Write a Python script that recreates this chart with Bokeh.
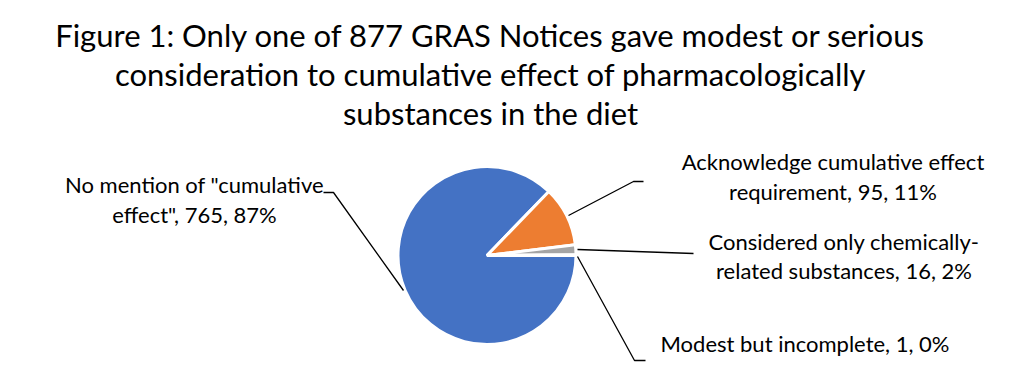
import math
from bokeh.plotting import figure
from bokeh.models import Range1d, ColumnDataSource
from bokeh.core.properties import value
from bokeh.embed import file_html
from bokeh.resources import INLINE

# ---- data ----
categories = [
    'No mention of "cumulative effect"',
    "Acknowledge cumulative effect requirement",
    "Considered only chemically-related substances",
    "Modest but incomplete",
]
counts = [765, 95, 16, 1]
percents = ["87%", "11%", "2%", "0%"]
colors = ["#4472C4", "#ED7D31", "#A5A5A5", "#FFC000"]
label_lines = [
    ['No mention of "cumulative', 'effect", 765, 87%'],
    ["Acknowledge cumulative effect", "requirement, 95, 11%"],
    ["Considered only chemically-", "related substances, 16, 2%"],
    ["Modest but incomplete, 1, 0%"],
]
title_lines = [
    "Figure 1: Only one of 877 GRAS Notices gave modest or serious",
    "consideration to cumulative effect of pharmacologically",
    "substances in the diet",
]

W, H = 1008, 370
def sx(x):  # screen x -> data x
    return x
def sy(y):  # screen y -> data y
    return H - y

p = figure(width=W, height=H, output_backend="svg", toolbar_location=None,
           x_range=Range1d(0, W), y_range=Range1d(0, H))
p.axis.visible = False
p.grid.visible = False
p.outline_line_color = None
p.min_border = 0
p.background_fill_color = "white"
p.border_fill_color = "white"

# ---- pie (Excel-style: starts at 3 o'clock, clockwise) ----
total = sum(counts)
ends, starts = [], []
acc = 0.0
for c in counts:
    a0 = -acc
    acc += c / total * 2 * math.pi
    a1 = -acc
    starts.append(a1)
    ends.append(a0)
src = ColumnDataSource(dict(start=starts, end=ends, color=colors, cat=categories, n=counts))
cx, cy, r = sx(486.5), sy(255), 89
p.wedge(x=cx, y=cy, radius=r, start_angle="start", end_angle="end",
        fill_color="color", line_color="white", line_width=3, source=src)

# ---- leader lines ----
leaders = [
    ([323, 333, 403], [192, 192, 290]),
    ([643, 633, 568], [181, 181, 215]),
    ([693, 577], [253, 249]),
    ([645, 634, 577], [360, 360, 256]),
]
for xs, ys in leaders:
    p.line([sx(x) for x in xs], [sy(y) for y in ys], line_color="black", line_width=1.3)

# ---- labels ----
font = value("Lato")
label_pos = [
    (194, [184, 214]),
    (832.5, [161, 191]),
    (843.5, [241, 270]),
    (804.5, [343]),
]
for lines, (x, ys) in zip(label_lines, label_pos):
    p.text(x=[sx(x)] * len(lines), y=[sy(y) for y in ys], text=lines,
           text_font=font, text_font_size="22px", text_align="center",
           text_baseline="alphabetic", text_color="black")

# ---- title ----
p.text(x=[sx(490)] * 3, y=[sy(34), sy(73), sy(112)], text=title_lines,
       text_font=font, text_font_size="31px", text_align="center",
       text_baseline="alphabetic", text_color="black")

open("out.html", "w").write(file_html(p, INLINE))
